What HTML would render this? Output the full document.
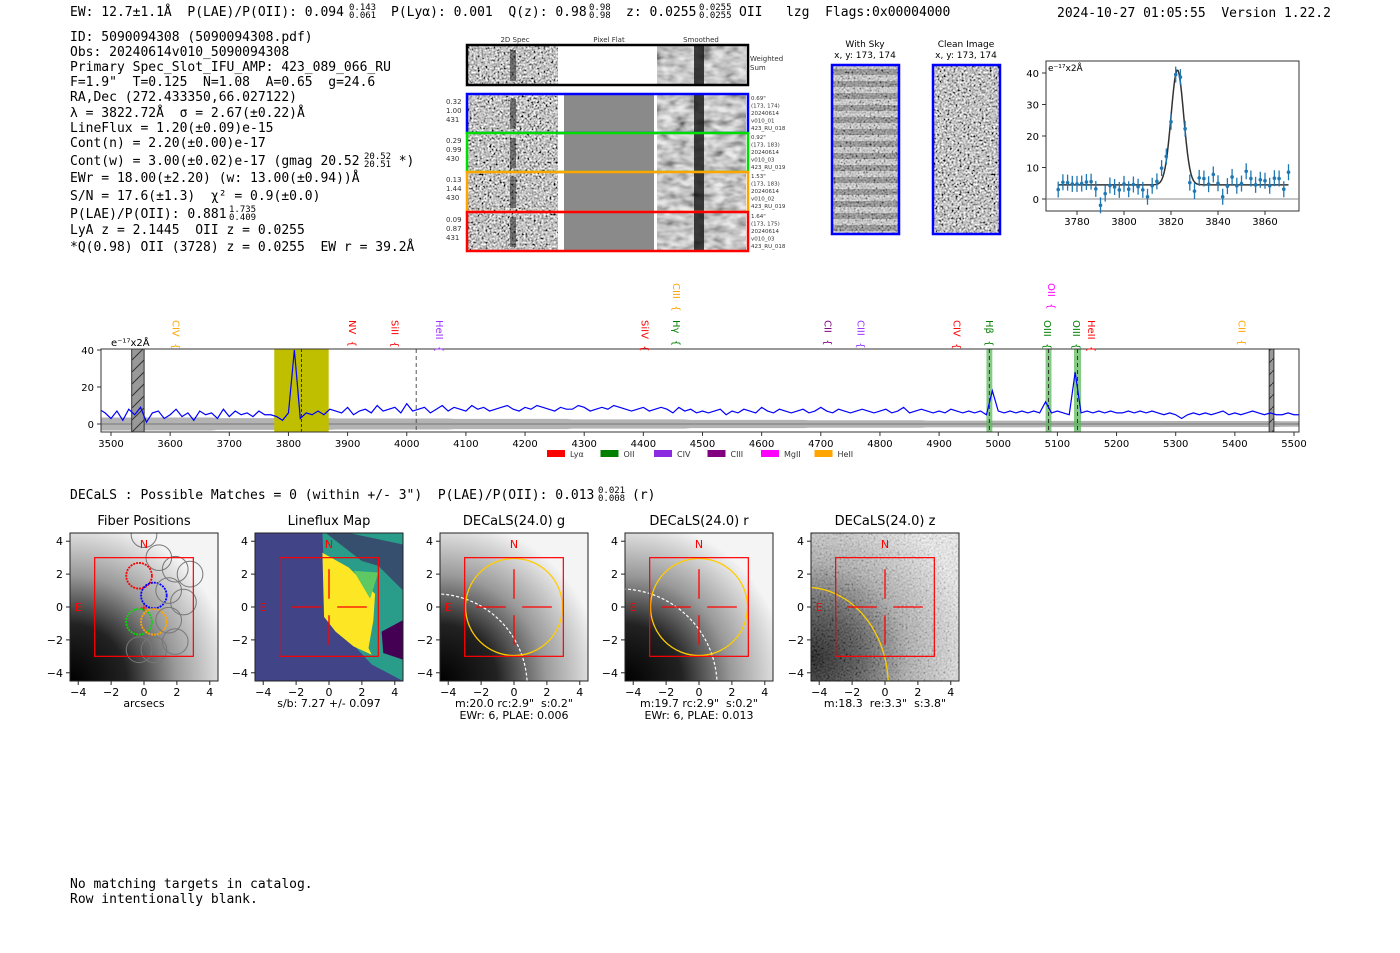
<!DOCTYPE html>
<html><head><meta charset="utf-8">
<style>
html,body{margin:0;padding:0;background:#fff;}
svg{display:block;}
text{white-space:pre;}
.m{font-family:"DejaVu Sans Mono","Liberation Mono",monospace;font-size:13px;fill:#000;white-space:pre;}
.s{font-family:"DejaVu Sans","Liberation Sans",sans-serif;fill:#000;}
</style></head>
<body>
<svg id="fig" xml:space="preserve" width="1400" height="953" viewBox="0 0 1400 953" xmlns="http://www.w3.org/2000/svg">
<defs>
<filter id="gnoise" x="0" y="0" width="100%" height="100%">
<feTurbulence type="fractalNoise" baseFrequency="0.5" numOctaves="2" seed="7" result="t"/>
<feColorMatrix in="t" type="matrix" values="0.33 0.33 0.33 0 0  0.33 0.33 0.33 0 0  0.33 0.33 0.33 0 0  0 0 0 0 1" result="g"/>
<feComponentTransfer in="g"><feFuncR type="linear" slope="3.5" intercept="-1.2"/><feFuncG type="linear" slope="3.5" intercept="-1.2"/><feFuncB type="linear" slope="3.5" intercept="-1.2"/></feComponentTransfer>
</filter>
<filter id="snoise" x="0" y="0" width="100%" height="100%">
<feTurbulence type="fractalNoise" baseFrequency="0.08 0.15" numOctaves="2" seed="5" result="t"/>
<feColorMatrix in="t" type="matrix" values="0.33 0.33 0.33 0 0  0.33 0.33 0.33 0 0  0.33 0.33 0.33 0 0  0 0 0 0 1" result="g"/>
<feComponentTransfer in="g"><feFuncR type="linear" slope="2.5" intercept="-0.6"/><feFuncG type="linear" slope="2.5" intercept="-0.6"/><feFuncB type="linear" slope="2.5" intercept="-0.6"/></feComponentTransfer>
</filter>
<radialGradient id="galg" cx="0" cy="1" r="1.1">
<stop offset="0" stop-color="#000"/><stop offset="0.35" stop-color="#222"/><stop offset="0.65" stop-color="#999"/><stop offset="1" stop-color="#f4f4f4"/>
</radialGradient>
<radialGradient id="galz" cx="0" cy="0.85" r="1.1">
<stop offset="0" stop-color="#000"/><stop offset="0.3" stop-color="#444"/><stop offset="0.6" stop-color="#aaa"/><stop offset="1" stop-color="#eee"/>
</radialGradient>
<pattern id="hatch" width="12" height="12" patternUnits="userSpaceOnUse"><rect width="12" height="12" fill="#999"/><path d="M0 12 L12 0" stroke="#333" stroke-width="1"/></pattern>
</defs>

<text class="m" x="70" y="16">EW: 12.7±1.1Å  P(LAE)/P(OII): 0.094</text>
<text class="m" x="349" y="10" style="font-size:9px">0.143</text>
<text class="m" x="349" y="18" style="font-size:9px">0.061</text>
<text class="m" x="391" y="16">P(Lyα): 0.001  Q(z): 0.98</text>
<text class="m" x="589" y="10" style="font-size:9px">0.98</text>
<text class="m" x="589" y="18" style="font-size:9px">0.98</text>
<text class="m" x="626" y="16">z: 0.0255</text>
<text class="m" x="699" y="10" style="font-size:9px">0.0255</text>
<text class="m" x="699" y="18" style="font-size:9px">0.0255</text>
<text class="m" x="739" y="16">OII   lzg  Flags:0x00004000</text>
<text class="m" x="1057" y="17">2024-10-27 01:05:55  Version 1.22.2</text>

<g>
<text class="m" x="70" y="41">ID: 5090094308 (5090094308.pdf)</text>
<text class="m" x="70" y="56">Obs: 20240614v010_5090094308</text>
<text class="m" x="70" y="71">Primary Spec_Slot_IFU_AMP: 423_089_066_RU</text>
<text class="m" x="70" y="86">F=1.9"  T=0.125  N=1.08  A=0.65  g=24.6</text>
<text class="m" x="70" y="101">RA,Dec (272.433350,66.027122)</text>
<text class="m" x="70" y="117">λ = 3822.72Å  σ = 2.67(±0.22)Å</text>
<text class="m" x="70" y="132">LineFlux = 1.20(±0.09)e-15</text>
<text class="m" x="70" y="147">Cont(n) = 2.20(±0.00)e-17</text>
<text class="m" x="70" y="165">Cont(w) = 3.00(±0.02)e-17 (gmag 20.52     *)</text>
<text class="m" x="364" y="159" style="font-size:9px">20.52</text>
<text class="m" x="364" y="167" style="font-size:9px">20.51</text>
<text class="m" x="70" y="182">EWr = 18.00(±2.20) (w: 13.00(±0.94))Å</text>
<text class="m" x="70" y="200">S/N = 17.6(±1.3)  χ² = 0.9(±0.0)</text>
<text class="m" x="70" y="218">P(LAE)/P(OII): 0.881</text>
<text class="m" x="229" y="212" style="font-size:9px">1.735</text>
<text class="m" x="229" y="220" style="font-size:9px">0.409</text>
<text class="m" x="70" y="234">LyA z = 2.1445  OII z = 0.0255</text>
<text class="m" x="70" y="251">*Q(0.98) OII (3728) z = 0.0255  EW r = 39.2Å</text>
</g>

<g id="cutouts"></g>
<g id="inset"></g>
<g id="spec"></g>

<text class="m" x="70" y="499">DECaLS : Possible Matches = 0 (within +/- 3")  P(LAE)/P(OII): 0.013</text>
<text class="m" x="598" y="493" style="font-size:9px">0.021</text>
<text class="m" x="598" y="501" style="font-size:9px">0.008</text>
<text class="m" x="632" y="499">(r)</text>

<g id="panels"></g>

<text class="m" x="70" y="888">No matching targets in catalog.</text>
<text class="m" x="70" y="903">Row intentionally blank.</text>
</svg>

<script>
const specStart = 3480;
const specStep = 10;
const specFlux = [8,6,3,7,2,8,5,9,1,6,7,3,5,8,4,6,2,7,5,6,3,8,4,7,5,6,4,7,5,5,
4,2,6,40,3,6,5,7,5,8,
7,6,9,5,7,8,6,10,7,8,9,6,11,7,8,9,6,8,10,7,9,8,7,10,8,9,7,8,9,10,8,7,9,8,10,9,8,7,9,8,8,10,9,7,8,9,8,10,9,8,7,8,9,7,8,9,8,6,9,7,8,6,7,
6,7,8,5,7,6,8,7,6,9,7,6,8,7,6,7,8,6,7,9,7,6,8,7,6,7,8,7,6,7,8,6,7,9,6,7,8,7,6,7,6,8,7,6,7,6,7,
5,18,
7,6,7,6,7,6,7,6,12,6,7,6,5,28,6,
7,6,7,6,7,6,6,7,6,7,6,7,6,5,6,5,3,5,6,5,6,5,6,7,5,6,5,6,7,6,5,6,5,5,6,5,5];
const specErr = [3.5,3.2,3.0,2.8,2.5,2.2,2.0,1.8,1.7,1.6,1.5];
const specTicks = [3500,3600,3700,3800,3900,4000,4100,4200,4300,4400,4500,4600,4700,4800,4900,5000,5100,5200,5300,5400,5500];
const specYTicks = [0,20,40];
const lineLabels = ["CIV","NV","SiII","HeII","SiIV","Hγ","CIII","CII","CIII","CIV","Hβ","OIII","OII","OIII","HeII","CII"];
const lineWaves  = [3610,3908,3980,4055,4403,4456,4456,4712,4768,4930,4985,5083,5090,5132,5158,5412];
const lineColors = ["#ffa500","#ff0000","#ff0000","#9b30ff","#ff0000","#008000","#ffa500","#800080","#9b30ff","#ff0000","#008000","#008000","#ff00ff","#008000","#ff0000","#ffa500"];
const lineHigh   = [0,0,0,0,0,0,1,0,0,0,0,0,1,0,0,0];
const greenBands = [[4980,4990],[5080,5090],[5128,5140]];
const legendNames = ["Lyα","OII","CIV","CIII","MgII","HeII"];
const legendColors = ["#ff0000","#008000","#8a2be2","#800080","#ff00ff","#ffa500"];

const fitWaves = [3772,3774,3776,3778,3780,3782,3784,3786,3788,3790,3792,3794,3796,3798,3800,3802,3804,3806,3808,3810,3812,3814,3816,3818,3820,3822,3824,3826,3828,3830,3832,3834,3836,3838,3840,3842,3844,3846,3848,3850,3852,3854,3856,3858,3860,3862,3864,3866,3868,3870];
const fitFlux = [3,5.3,5.2,4.8,4.8,4.9,5.4,5.5,3.2,-2,1.7,4.3,3.8,2.9,4.8,3.1,4.6,3.9,2.9,0.7,4.2,5.6,9.8,13.5,24.5,39.5,38.7,22.3,5.2,2.5,6.7,6.5,4.7,7.8,5,0.7,4.1,7,4.2,4.9,8.8,6.5,4.5,6.1,5.8,4.2,6.6,6.5,3.1,8.5];
const fitParams = [3822.72, 2.67, 36.5, 4.5];
const fitXTicks = [3780,3800,3820,3840,3860];
const fitYTicks = [0,10,20,30,40];

const NS = "http://www.w3.org/2000/svg";
function el(tag, attrs, parent){const e=document.createElementNS(NS,tag);for(const k in attrs)e.setAttribute(k,attrs[k]);if(parent)parent.appendChild(e);return e;}
function txt(parent,x,y,s,size,anchor,fill){const t=el("text",{x:x,y:y,"font-size":size,"text-anchor":anchor||"middle",fill:fill||"#000","font-family":"DejaVu Sans, Liberation Sans, sans-serif"},parent);t.textContent=s;return t;}

(function(){
  const g=document.getElementById("spec");
  const L=101,R=1299,T=349,B=432;
  const X=w=>111+(w-3500)*(1294-111)/2000;
  const Y=v=>424-v*1.85;
  const clip=el("clipPath",{id:"specclip"},g); el("rect",{x:L,y:T,width:R-L,height:B-T},clip);
  const inner=el("g",{"clip-path":"url(#specclip)"},g);
  let up=[],dn=[];
  for(let i=0;i<specFlux.length;i++){const w=specStart+i*specStep;const e=specErr[Math.min(specErr.length-1,Math.floor((w-3480)/200))];up.push(X(w)+","+Y(e));dn.unshift(X(w)+","+Y(-e));}
  const band=el("polygon",{points:up.concat(dn).join(" "),fill:"#999","fill-opacity":"0.75"},inner);
  
  
  el("line",{x1:L,x2:R,y1:Y(0),y2:Y(0),stroke:"#777","stroke-width":1},inner);
  const yr=el("rect",{x:X(3776),y:T,width:X(3868)-X(3776),height:B-T,fill:"#bfbf00"},inner);
  
  
  [[3535,3556],[5458,5466]].forEach(r=>{
    const m=el("rect",{x:X(r[0]),y:T,width:X(r[1])-X(r[0]),height:B-T,fill:"url(#hatch)",stroke:"#333","stroke-width":1},inner);
    
    
  });
  greenBands.forEach(b=>{
    const r=el("rect",{x:X(b[0]),y:T,width:X(b[1])-X(b[0]),height:B-T,fill:"#5cb85c","fill-opacity":"0.75"},inner);
    
    
    el("line",{x1:X((b[0]+b[1])/2),x2:X((b[0]+b[1])/2),y1:T,y2:B,stroke:"#333","stroke-dasharray":"4,3"},inner);
  });
  el("line",{x1:X(4016),x2:X(4016),y1:T,y2:B,stroke:"#555","stroke-dasharray":"4,3"},inner);
  el("line",{x1:X(3822),x2:X(3822),y1:T,y2:B,stroke:"#333","stroke-dasharray":"3,2"},inner);
  let pts=[];
  for(let i=0;i<specFlux.length;i++){pts.push(X(specStart+i*specStep)+","+Y(specFlux[i]));}
  const pl=el("polyline",{points:pts.join(" "),fill:"none",stroke:"#0000ff","stroke-width":1.2},inner);
  
  
  el("rect",{x:L,y:T,width:R-L,height:B-T,fill:"none",stroke:"#333","stroke-width":1},g);
  specTicks.forEach(t=>{el("line",{x1:X(t),x2:X(t),y1:B,y2:B+4,stroke:"#333"},g);const l=txt(g,X(t),B+15,String(t),10);});
  specYTicks.forEach(t=>{el("line",{x1:L-4,x2:L,y1:Y(t),y2:Y(t),stroke:"#333"},g);const l=txt(g,L-7,Y(t)+4,String(t),10,"end");});
  const u=txt(g,111,346,"e⁻¹⁷x2Å",10,"start");
  
  
  lineLabels.forEach((s,i)=>{
    const x=X(lineWaves[i]);const top=lineHigh[i]?283:320;
    const t=el("text",{x:0,y:0,"font-size":10,fill:lineColors[i],"font-family":"DejaVu Sans, sans-serif",transform:"translate("+(x-3.5)+","+top+") rotate(90)"},g);
    t.textContent=s+"  {";
    
    
  });
  legendNames.forEach((s,i)=>{
    const x=547+i*53.5;
    const r=el("rect",{x:x,y:450,width:18,height:7,fill:legendColors[i]},g);
    
    
    const t=txt(g,x+23,457,s,8,"start","#333");
    
    
  });
})();

(function(){
  const g=document.getElementById("inset");
  const L=1046,R=1299,T=61,B=211;
  const X=w=>1077+(w-3780)*(1265-1077)/80;
  const Y=v=>199-v*3.15;
  el("rect",{x:L,y:T,width:R-L,height:B-T,fill:"#fff",stroke:"#333"},g);
  el("line",{x1:L,x2:R,y1:Y(0),y2:Y(0),stroke:"#888"},g);
  let d=[];
  for(let w=3772;w<=3870;w+=0.5){const v=fitParams[3]+fitParams[2]*Math.exp(-0.5*Math.pow((w-fitParams[0])/fitParams[1],2));d.push(X(w)+","+Y(v));}
  const fl=el("polyline",{points:d.join(" "),fill:"none",stroke:"#333","stroke-width":1.5},g);
  
  
  fitWaves.forEach((w,i)=>{
    const x=X(w),y=Y(fitFlux[i]);
    el("line",{x1:x,x2:x,y1:y-8,y2:y+8,stroke:"#1f77b4","stroke-width":1.3},g);
    const p=el("circle",{cx:x,cy:y,r:1.8,fill:"#1f77b4"},g);
    
    
  });
  fitXTicks.forEach(t=>{el("line",{x1:X(t),x2:X(t),y1:B,y2:B+4,stroke:"#333"},g);txt(g,X(t),B+14,String(t),10);});
  fitYTicks.forEach(t=>{el("line",{x1:L-4,x2:L,y1:Y(t),y2:Y(t),stroke:"#333"},g);txt(g,L-7,Y(t)+4,String(t),10,"end");});
  txt(g,L+2,T+10,"e⁻¹⁷x2Å",9,"start");
})();

(function(){
  const g=document.getElementById("cutouts");
  txt(g,515,42,"2D Spec",7,"middle","#333");
  txt(g,609,42,"Pixel Flat",7,"middle","#333");
  txt(g,701,42,"Smoothed",7,"middle","#333");
  const rows=[{y:46,h:39,c:"#000",n:[]},{y:95,h:38,c:"#0000ff",n:["0.32","1.00","431"],r:["0.69\"","(173, 174)","20240614","v010_01","423_RU_018"]},{y:134,h:38,c:"#00dd00",n:["0.29","0.99","430"],r:["0.92\"","(173, 183)","20240614","v010_03","423_RU_019"]},{y:173,h:39,c:"#ffa500",n:["0.13","1.44","430"],r:["1.53\"","(173, 183)","20240614","v010_02","423_RU_019"]},{y:213,h:38,c:"#ff0000",n:["0.09","0.87","431"],r:["1.64\"","(173, 175)","20240614","v010_03","423_RU_018"]}];
  rows.forEach((r,i)=>{
    const rg=el("g",{},g);
    
    
    el("rect",{x:468,y:r.y,width:90,height:r.h,fill:"#888"},rg);
    el("rect",{x:468,y:r.y,width:90,height:r.h,filter:"url(#gnoise)"},rg);
    el("rect",{x:510,y:r.y+4,width:6,height:r.h-8,fill:"#111","fill-opacity":"0.5"},rg);
    el("rect",{x:564,y:r.y,width:90,height:r.h,fill:i==0?"#fff":"#8a8a8a"},rg);
    el("rect",{x:657,y:r.y,width:89,height:r.h,fill:"#9a9a9a"},rg);
    el("rect",{x:657,y:r.y,width:89,height:r.h,filter:"url(#snoise)","opacity":"0.8"},rg);
    el("rect",{x:694,y:r.y,width:10,height:r.h,fill:"#111","fill-opacity":"0.8"},rg);
    el("rect",{x:467,y:r.y-1,width:281,height:r.h+1,fill:"none",stroke:r.c,"stroke-width":2.5},rg);
    if(i==0){txt(rg,750,61,"Weighted",7,"start","#333");txt(rg,750,70,"Sum",7,"start","#333");}
    else{
      r.n.forEach((s,k)=>txt(rg,446,r.y+9+k*9,s,7,"start","#333"));
      r.r.forEach((s,k)=>txt(rg,751,r.y+5+k*7.5,s,5.5,"start","#333"));
    }
  });
  txt(g,865,47,"With Sky",9);txt(g,865,58,"x, y: 173, 174",9);
  txt(g,966,47,"Clean Image",9);txt(g,966,58,"x, y: 173, 174",9);
  const sk=el("g",{},g);
  
  
  el("rect",{x:832,y:65,width:67,height:169,fill:"#ccc"},sk);
  for(let k=0;k<14;k++){el("rect",{x:832,y:69+k*12,width:67,height:6,fill:"#555","fill-opacity":"0.8"},sk);}
  el("rect",{x:832,y:65,width:67,height:169,filter:"url(#gnoise)",opacity:"0.5"},sk);
  el("rect",{x:832,y:65,width:67,height:169,fill:"none",stroke:"#0000ff","stroke-width":2.5},sk);
  const cl=el("g",{},g);
  
  
  el("rect",{x:933,y:65,width:67,height:169,fill:"#999"},cl);
  el("rect",{x:933,y:65,width:67,height:169,filter:"url(#gnoise)"},cl);
  el("rect",{x:933,y:65,width:67,height:169,fill:"none",stroke:"#0000ff","stroke-width":2.5},cl);
})();

const panelTitles = ["Fiber Positions","Lineflux Map","DECaLS(24.0) g","DECaLS(24.0) r","DECaLS(24.0) z"];
const panelCaptions = [["arcsecs"],["s/b: 7.27 +/- 0.097"],["m:20.0 rc:2.9\"  s:0.2\"","EWr: 6, PLAE: 0.006"],["m:19.7 rc:2.9\"  s:0.2\"","EWr: 6, PLAE: 0.013"],["m:18.3  re:3.3\"  s:3.8\""]];
const panelLefts = [70,255,440,625,811];
const panelTicks = [-4,-2,0,2,4];
const fiberX = [0.0,0.9,1.9,-0.3,0.6,1.5,2.8,-0.3,0.6,1.5,2.4,0.6,1.9,-0.3];
const fiberY = [4.4,3.0,2.3,1.9,0.7,1.0,2.0,-0.9,-0.9,-0.8,0.3,-2.6,-2.1,-2.6];
const fiberColor = ["#888","#888","#888","#ff0000","#0000ff","#888","#888","#00dd00","#ffa500","#888","#888","#888","#888","#888"];
(function(){
  const g=document.getElementById("panels");
  const T=533,S=148,k=S/9;
  panelLefts.forEach((L,p)=>{
    const pg=el("g",{},g);
    
    
    const X=v=>L+S/2+v*k, Y=v=>T+S/2-v*k;
    const cid="pc"+p; const c=el("clipPath",{id:cid},pg); el("rect",{x:L,y:T,width:S,height:S},c);
    const ig=el("g",{"clip-path":"url(#"+cid+")"},pg);
    if(p==1){
      el("rect",{x:L,y:T,width:S,height:S,fill:"#414487"},ig);
      el("polygon",{points:[X(-0.4),Y(4.5),X(4.5),Y(4.5),X(4.5),Y(-4.5),X(2.6),Y(-3.5),X(-0.2),Y(-0.5)].join(","),fill:"#2a9d8a"},ig);
      el("polygon",{points:[X(-0.2),Y(4.5),X(1.2),Y(4.5),X(4.5),Y(3.8),X(4.5),Y(1),X(3),Y(2.5),X(2),Y(2.8)].join(","),fill:"#440154","fill-opacity":"0.5"},ig);
      el("polygon",{points:[X(3.2),Y(-1.5),X(4.5),Y(-0.8),X(4.5),Y(-3.2),X(3.3),Y(-2.8)].join(","),fill:"#440154"},ig);
      el("polygon",{points:[X(-0.4),Y(3.3),X(1.2),Y(2.4),X(2.8),Y(0.8),X(2.7),Y(-0.8),X(2.4),Y(-2.5),X(2.6),Y(-2.9),X(1.5),Y(-2.4),X(0.4),Y(-1.5),X(-0.3),Y(-0.6)].join(","),fill:"#fde725"},ig);
      el("polygon",{points:[X(1.5),Y(2.2),X(3),Y(2.1),X(2.5),Y(0.5)].join(","),fill:"#5ec962"},ig);
    } else if(p==4){
      el("rect",{x:L,y:T,width:S,height:S,fill:"url(#galz)"},ig);
      el("rect",{x:L,y:T,width:S,height:S,filter:"url(#gnoise)",opacity:"0.25"},ig);
    } else {
      el("rect",{x:L,y:T,width:S,height:S,fill:"url(#galg)"},ig);
    }
    if(p>=2){
      if(p<4){
        el("circle",{cx:X(-4.8),cy:Y(-4.8),r:(p==2?5.6:5.9)*k,fill:"none",stroke:"#fff","stroke-dasharray":"3,2","stroke-width":1.2},ig);
        el("circle",{cx:X(0),cy:Y(0),r:2.95*k,fill:"none",stroke:"#ffcc00","stroke-width":1.3},ig);
      } else {
        el("ellipse",{cx:X(-4.8),cy:Y(-4.8),rx:5.0*k,ry:6.0*k,fill:"none",stroke:"#ffcc00","stroke-width":1.3},ig);
      }
    }
    if(p==0){
      fiberX.forEach((fx,i)=>{
        const cc=el("circle",{cx:X(fx),cy:Y(fiberY[i]),r:0.78*k,fill:"none",stroke:fiberColor[i]=="#888"?"#777":fiberColor[i],"stroke-width":fiberColor[i]=="#888"?1:1.8,"stroke-dasharray":fiberColor[i]=="#888"?"":"2,1"},ig);
        
        
      });
      txt(ig,X(0),Y(0)+4,"+",10,"middle","#f00");
    }
    el("rect",{x:X(-3),y:Y(3),width:6*k,height:6*k,fill:"none",stroke:"#f00","stroke-width":1.2},ig);
    if(p>=1){
      [[-2.3,-0.5],[0.5,2.3]].forEach(s=>el("line",{x1:X(s[0]),x2:X(s[1]),y1:Y(0),y2:Y(0),stroke:"#f00","stroke-width":1.3},ig));
      [[2.3,0.5],[-0.5,-2.3]].forEach(s=>el("line",{x1:X(0),x2:X(0),y1:Y(s[0]),y2:Y(s[1]),stroke:"#f00","stroke-width":1.3},ig));
    }
    txt(ig,X(0),Y(3.9)+5,"N",11,"middle","#f00");
    txt(ig,X(-4),Y(0)+4,"E",11,"middle","#f00");
    el("rect",{x:L,y:T,width:S,height:S,fill:"none",stroke:"#222"},pg);
    const tt=txt(pg,L+S/2,T-8,panelTitles[p],13);
    
    
    panelTicks.forEach(t=>{
      el("line",{x1:X(t),x2:X(t),y1:T+S,y2:T+S+4,stroke:"#222"},pg);
      txt(pg,X(t),T+S+15,String(t).replace("-","−"),11);
      el("line",{x1:L-4,x2:L,y1:Y(t),y2:Y(t),stroke:"#222"},pg);
      txt(pg,L-7,Y(t)+4,String(t).replace("-","−"),11,"end");
    });
    panelCaptions[p].forEach((s,i)=>{const c=txt(pg,L+S/2,T+S+26+i*12,s,11);});
  });
})();
</script>
</body></html>
